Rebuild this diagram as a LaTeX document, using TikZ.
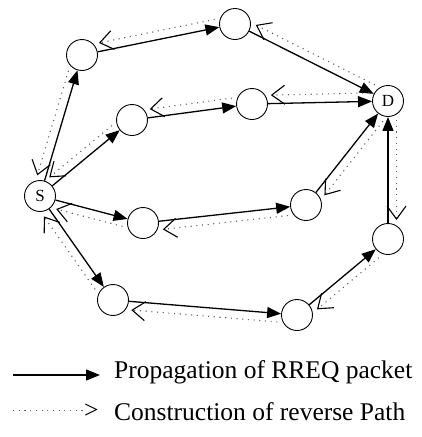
\documentclass[tikz,border=0pt]{standalone}
\usepackage{fontspec}
\setmainfont{Liberation Serif}
\usetikzlibrary{arrows.meta,calc}
\tikzset{
  nd/.style={circle,draw,line width=0.9pt,minimum size=31pt,inner sep=0pt,font=\fontsize{17}{19}\selectfont},
  fwd/.style={line width=1.3pt,-{Triangle[length=14pt,width=11pt]}},
  dots/.style={draw=gray!75!black,line width=1.1pt,dash pattern=on 1.1pt off 4.6pt},
  rev/.style={dots,-{Straight Barb[length=13pt,width=19pt,line width=1.1pt,color=black]}},
  legtext/.style={anchor=base west,inner sep=0pt,font=\fontsize{25.5}{30}\selectfont}
}
\newcommand\revedge[4]{\draw[rev] ($(#2)!19pt!(#1)!8.5pt!#3:(#1)$) -- ($(#1)!19pt!(#2)!8.5pt!#4:(#2)$);}
\begin{document}
\begin{tikzpicture}[x=1pt,y=-1pt]
\useasboundingbox (0,0) rectangle (422,437);
% nodes
\node[nd] (S) at (40,196) {S};
\node[nd] (D) at (388,101) {D};
\node[nd] (A1) at (82,55) {};
\node[nd] (A2) at (235,24) {};
\node[nd] (B1) at (132,120) {};
\node[nd] (B2) at (252,104) {};
\node[nd] (C1) at (143,223) {};
\node[nd] (C2) at (306,205) {};
\node[nd] (E1) at (113,300) {};
\node[nd] (E2) at (297,315) {};
\node[nd] (E3) at (388,239) {};
% forward RREQ propagation
\draw[fwd] (S) -- (A1);
\draw[fwd] (A1) -- (A2);
\draw[fwd] (A2) -- (D);
\draw[fwd] (S) -- (B1);
\draw[fwd] (B1) -- (B2);
\draw[fwd] (B2) -- (D);
\draw[fwd] (S) -- (C1);
\draw[fwd] (C1) -- (C2);
\draw[fwd] (C2) -- (D);
\draw[fwd] (S) -- (E1);
\draw[fwd] (E1) -- (E2);
\draw[fwd] (E2) -- (E3);
\draw[fwd] (E3) -- (D);
% reverse path (left side of forward edge)
\revedge{S}{A1}{270}{90}
\revedge{A1}{A2}{270}{90}
\revedge{A2}{D}{270}{90}
\revedge{S}{B1}{270}{90}
\revedge{B1}{B2}{270}{90}
\revedge{B2}{D}{270}{90}
% reverse path (right side of forward edge)
\revedge{S}{C1}{90}{270}
\revedge{C1}{C2}{90}{270}
\revedge{C2}{D}{90}{270}
\revedge{S}{E1}{90}{270}
\revedge{E1}{E2}{90}{270}
\revedge{E2}{E3}{90}{270}
\revedge{E3}{D}{90}{270}
% legend
\coordinate (la) at (13,375);
\coordinate (lb) at (100,375);
\draw[fwd] (la) -- (lb);
\node[legtext] (t1) at (114,378) {Propagation of RREQ packet};
\coordinate (lc) at (13,410.5);
\coordinate (ld) at (83,410.5);
\draw[dots] (lc) -- (ld);
\node[legtext] (gt) at (84,418) {>};
\node[legtext] (t2) at (114,420) {Construction of reverse Path};
\end{tikzpicture}
\end{document}
